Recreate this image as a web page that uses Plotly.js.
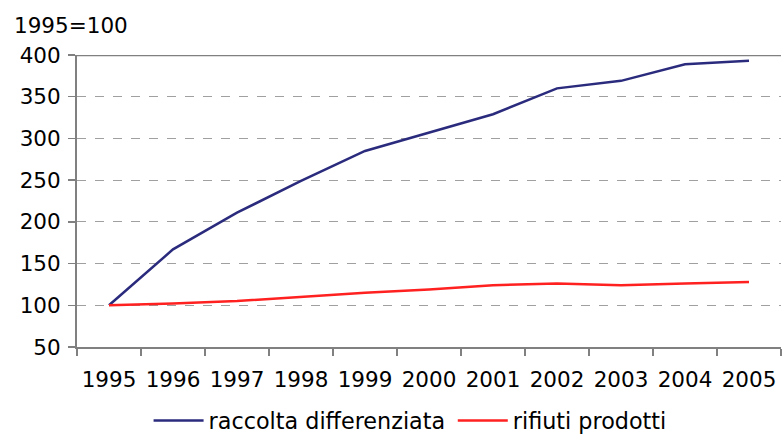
<!DOCTYPE html>
<html>
<head>
<meta charset="utf-8">
<script src="https://cdn.plot.ly/plotly-3.0.1.min.js"></script>
<style>html,body{margin:0;padding:0;background:#fff;}#chart{width:782px;height:434px;}</style>
</head>
<body>
<div id="chart"></div>
<script>
const years = ["1995","1996","1997","1998","1999","2000","2001","2002","2003","2004","2005"];
const raccolta = [100,167,211,249,285,307,329,360,369,389,393];
const rifiuti = [100,102,105,110,115,119,124,126,124,126,128];
const seriesNames = ["raccolta differenziata","rifiuti prodotti"];
const yTicks = [50,100,150,200,250,300,350,400];

const font = "DejaVu Sans, Verdana, sans-serif";
const traces = [
  {x: years, y: raccolta, type: "scatter", mode: "lines", name: seriesNames[0],
   line: {color: "#2B2B7E", width: 2.5}, legend: "legend"},
  {x: years, y: rifiuti, type: "scatter", mode: "lines", name: seriesNames[1],
   line: {color: "#FF2020", width: 2.5}, legend: "legend2"}
];
const legendBase = {orientation: "h", xref: "container", yref: "container",
  xanchor: "left", y: 0.031, yanchor: "middle", itemwidth: 50,
  font: {family: font, size: 22.3, color: "#000"}};
const layout = {
  width: 782, height: 434,
  margin: {l: 77, r: 1, t: 55, b: 87},
  paper_bgcolor: "#fff", plot_bgcolor: "#fff",
  font: {family: font, size: 21.5, color: "#000"},
  showlegend: true,
  legend: Object.assign({}, legendBase, {x: 0.19}),
  legend2: Object.assign({}, legendBase, {x: 0.579}),
  xaxis: {type: "category", tickson: "boundaries", ticks: "outside", ticklen: 7,
          tickcolor: "#808080", tickwidth: 1.5, showline: true, linecolor: "#808080", linewidth: 2,
          showgrid: false, automargin: false, tickangle: 0, tickfont: {family: font, size: 21.5},
          ticklabelstandoff: 12, range: [-0.5, 10.5]},
  yaxis: {range: [50, 400], tickvals: yTicks, ticks: "outside", ticklen: 7,
          tickcolor: "#808080", tickwidth: 1.5, showline: true, linecolor: "#808080", linewidth: 2,
          showgrid: true, gridcolor: "#A0A0A0", griddash: "dash", gridwidth: 1,
          zeroline: false, automargin: false, tickfont: {family: font, size: 21.5},
          ticklabelstandoff: 3},
  shapes: [{type: "line", xref: "paper", yref: "y", x0: 0, x1: 1, y0: 400, y1: 400,
            line: {color: "#808080", width: 2.5}}],
  annotations: [{text: "1995=100", xref: "paper", yref: "paper", x: -0.092, y: 1.1,
                 xanchor: "left", yanchor: "middle", showarrow: false,
                 font: {family: font, size: 21.5, color: "#000"}}]
};
Plotly.newPlot("chart", traces, layout, {displayModeBar: false, staticPlot: true});
</script>
</body>
</html>
